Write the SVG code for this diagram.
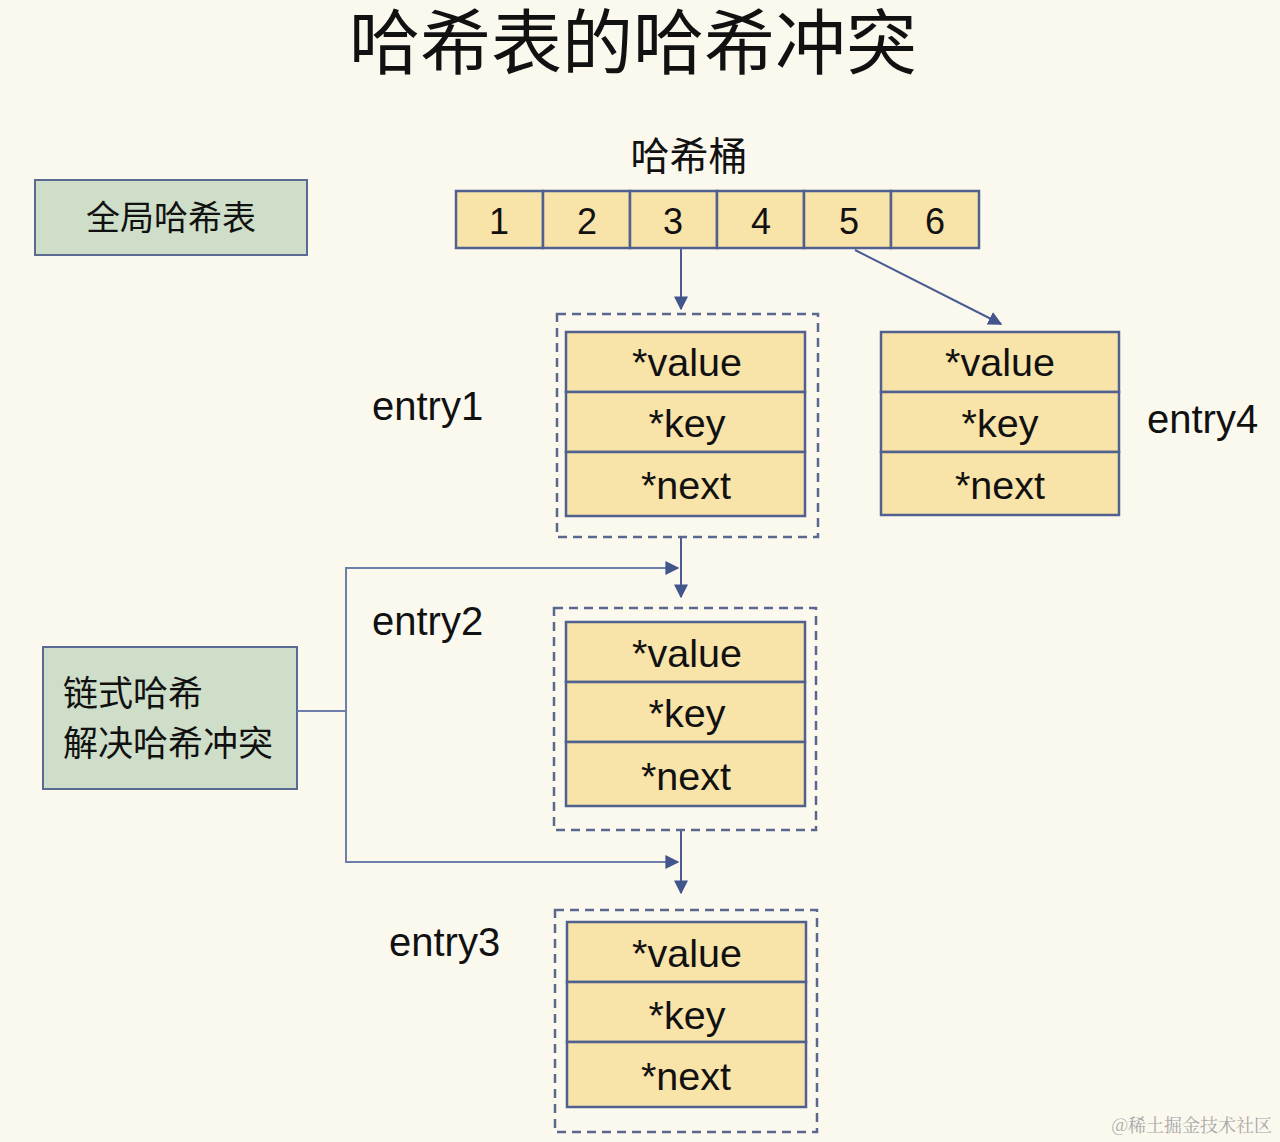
<svg xmlns="http://www.w3.org/2000/svg" width="1280" height="1142" viewBox="0 0 1280 1142">
<defs>
<style>
.bg{fill:#fbf8ee}
.cell{fill:#f8e3a8;stroke:#50618f;stroke-width:2.5}
.dash{fill:none;stroke:#5a6890;stroke-width:2.5;stroke-dasharray:9,6}
.green{fill:#cfdec8;stroke:#5a6a92;stroke-width:2}
.t{font-family:"Liberation Sans","Noto Sans CJK SC",Arial,sans-serif;fill:#111}
.c{text-anchor:middle}
.cjk{font-family:"Noto Sans CJK SC","Liberation Sans",sans-serif;fill:#111}
.conn{fill:none;stroke:#4a5d92;stroke-width:2}
.conn2{fill:none;stroke:#6d7eab;stroke-width:2}
</style>
<marker id="ah" viewBox="0 0 10 10" refX="9" refY="5" markerWidth="14" markerHeight="14" markerUnits="userSpaceOnUse" orient="auto">
<path d="M0,0 L10,5 L0,10 z" fill="#42558c"/>
</marker>
</defs>
<rect class="bg" x="0" y="0" width="1280" height="1142"/>

<text class="cjk c" x="633" y="68" font-size="71">哈希表的哈希冲突</text>

<g id="global-table">
<rect class="green" x="35" y="180" width="272" height="75"/>
<text class="cjk c" x="171" y="230" font-size="34">全局哈希表</text>
</g>

<g id="buckets">
<text class="cjk c" x="689" y="170" font-size="39">哈希桶</text>
<rect class="cell" x="456" y="191" width="87" height="57"/>
<rect class="cell" x="543" y="191" width="87" height="57"/>
<rect class="cell" x="630" y="191" width="87" height="57"/>
<rect class="cell" x="717" y="191" width="87" height="57"/>
<rect class="cell" x="804" y="191" width="87" height="57"/>
<rect class="cell" x="891" y="191" width="88" height="57"/>
<text class="t c" x="499" y="234" font-size="36">1</text>
<text class="t c" x="587" y="234" font-size="36">2</text>
<text class="t c" x="673" y="234" font-size="36">3</text>
<text class="t c" x="761" y="234" font-size="36">4</text>
<text class="t c" x="849" y="234" font-size="36">5</text>
<text class="t c" x="935" y="234" font-size="36">6</text>
</g>

<g id="entry1">
<rect class="dash" x="557" y="314" width="261" height="223"/>
<rect class="cell" x="566" y="332" width="239" height="60"/>
<rect class="cell" x="566" y="392" width="239" height="60"/>
<rect class="cell" x="566" y="452" width="239" height="64"/>
<text class="t c" x="687" y="376" font-size="39.5">*value</text>
<text class="t c" x="687" y="437" font-size="39.5">*key</text>
<text class="t c" x="686" y="499" font-size="39.5">*next</text>
<text class="t" x="372" y="420" font-size="40">entry1</text>
</g>

<g id="entry4">
<rect class="cell" x="881" y="332" width="238" height="60"/>
<rect class="cell" x="881" y="392" width="238" height="60"/>
<rect class="cell" x="881" y="452" width="238" height="63"/>
<text class="t c" x="1000" y="376" font-size="39.5">*value</text>
<text class="t c" x="1000" y="437" font-size="39.5">*key</text>
<text class="t c" x="1000" y="499" font-size="39.5">*next</text>
<text class="t" x="1147" y="433" font-size="40">entry4</text>
</g>

<g id="entry2">
<rect class="dash" x="554" y="608" width="262" height="222"/>
<rect class="cell" x="566" y="622" width="239" height="60"/>
<rect class="cell" x="566" y="682" width="239" height="60"/>
<rect class="cell" x="566" y="742" width="239" height="64"/>
<text class="t c" x="687" y="667" font-size="39.5">*value</text>
<text class="t c" x="687" y="727" font-size="39.5">*key</text>
<text class="t c" x="686" y="790" font-size="39.5">*next</text>
<text class="t" x="372" y="635" font-size="40">entry2</text>
</g>

<g id="entry3">
<rect class="dash" x="555" y="910" width="262" height="222"/>
<rect class="cell" x="567" y="922" width="239" height="60"/>
<rect class="cell" x="567" y="982" width="239" height="60"/>
<rect class="cell" x="567" y="1042" width="239" height="65"/>
<text class="t c" x="687" y="967" font-size="39.5">*value</text>
<text class="t c" x="687" y="1029" font-size="39.5">*key</text>
<text class="t c" x="686" y="1090" font-size="39.5">*next</text>
<text class="t" x="389" y="956" font-size="40">entry3</text>
</g>

<g id="chain-note">
<rect class="green" x="43" y="647" width="254" height="142"/>
<text class="cjk" x="63" y="706" font-size="35">链式哈希</text>
<text class="cjk" x="63" y="756" font-size="35">解决哈希冲突</text>
</g>

<g id="connectors">
<line class="conn" x1="681" y1="249" x2="681" y2="309" marker-end="url(#ah)"/>
<line class="conn" x1="855" y1="250" x2="1001" y2="324" marker-end="url(#ah)"/>
<line class="conn" x1="681" y1="538" x2="681" y2="597" marker-end="url(#ah)"/>
<line class="conn" x1="681" y1="831" x2="681" y2="893" marker-end="url(#ah)"/>
<polyline class="conn2" points="297,711 346,711"/>
<polyline class="conn2" points="677,568 346,568 346,862 677,862"/>
<line class="conn2" x1="346" y1="568" x2="678" y2="568" marker-end="url(#ah)"/>
<line class="conn2" x1="346" y1="862" x2="678" y2="862" marker-end="url(#ah)"/>
</g>

<text x="1272" y="1132" font-size="18" text-anchor="end" font-family="Noto Serif CJK SC,Noto Sans CJK SC,serif" fill="#a8a8a8">@稀土掘金技术社区</text>
</svg>
